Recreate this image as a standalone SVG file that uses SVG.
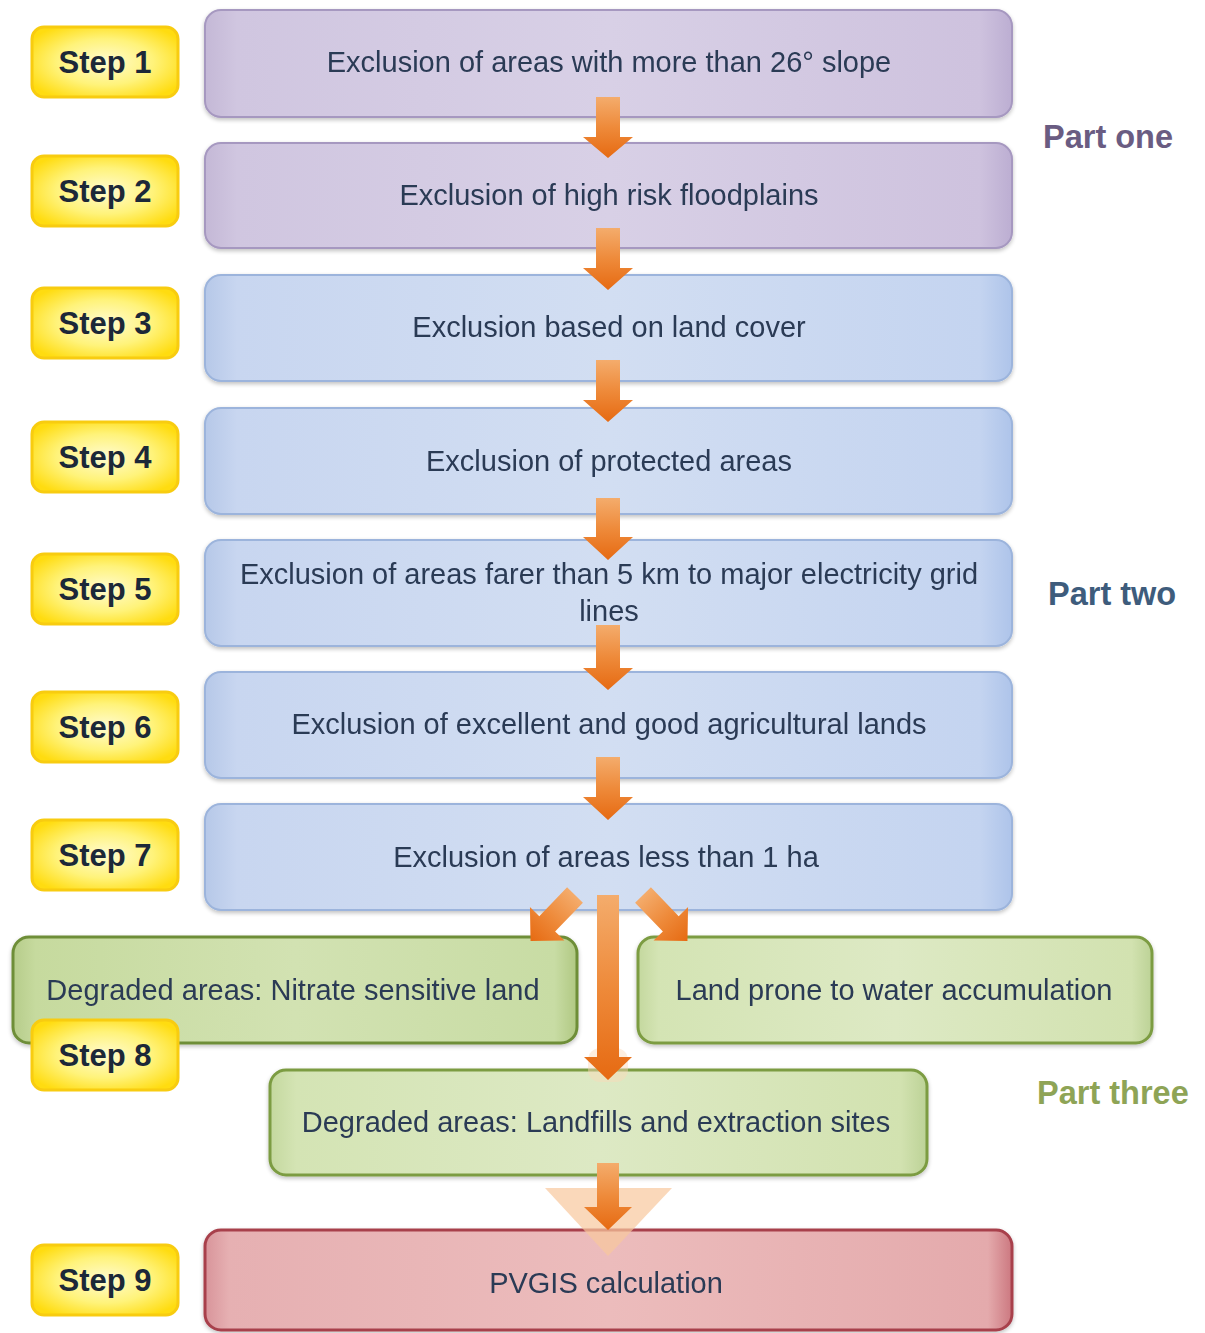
<svg xmlns="http://www.w3.org/2000/svg" width="1205" height="1333" viewBox="0 0 1205 1333">
<defs>
<radialGradient id="gYel" cx="50%" cy="50%" r="60%">
<stop offset="0" stop-color="#fffbd0"/>
<stop offset="0.55" stop-color="#fff37a"/>
<stop offset="1" stop-color="#ffdc10"/>
</radialGradient>
<linearGradient id="gPur" x1="0" y1="0" x2="1" y2="0">
<stop offset="0" stop-color="#c4b8d6"/>
<stop offset="0.04" stop-color="#d0c6e0"/>
<stop offset="0.5" stop-color="#d8d0e6"/>
<stop offset="0.96" stop-color="#cec2de"/>
<stop offset="1" stop-color="#bcaed2"/>
</linearGradient>
<linearGradient id="gBlu" x1="0" y1="0" x2="1" y2="0">
<stop offset="0" stop-color="#b6c8e8"/>
<stop offset="0.04" stop-color="#c8d6f0"/>
<stop offset="0.5" stop-color="#d2def2"/>
<stop offset="0.96" stop-color="#c4d4f0"/>
<stop offset="1" stop-color="#aec4ea"/>
</linearGradient>
<linearGradient id="gGrn" x1="0" y1="0" x2="1" y2="0">
<stop offset="0" stop-color="#c4d89e"/>
<stop offset="0.04" stop-color="#d4e4b4"/>
<stop offset="0.5" stop-color="#dde9c4"/>
<stop offset="0.96" stop-color="#d2e2b0"/>
<stop offset="1" stop-color="#bcd296"/>
</linearGradient>
<linearGradient id="gGrn2" x1="0" y1="0" x2="1" y2="0">
<stop offset="0" stop-color="#b6cc8a"/>
<stop offset="0.04" stop-color="#c6da9e"/>
<stop offset="0.5" stop-color="#d2e2b2"/>
<stop offset="0.96" stop-color="#c8dca4"/>
<stop offset="1" stop-color="#b0c882"/>
</linearGradient>
<linearGradient id="gRed" x1="0" y1="0" x2="1" y2="0">
<stop offset="0" stop-color="#d8949a"/>
<stop offset="0.03" stop-color="#e6b0b2"/>
<stop offset="0.5" stop-color="#ecbcbc"/>
<stop offset="0.97" stop-color="#e4aaac"/>
<stop offset="1" stop-color="#cc7880"/>
</linearGradient>
<linearGradient id="gArr" x1="0" y1="0" x2="0" y2="1">
<stop offset="0" stop-color="#f4ac6c"/>
<stop offset="0.5" stop-color="#ee8a3a"/>
<stop offset="1" stop-color="#e66a12"/>
</linearGradient>
<filter id="sh" x="-5%" y="-10%" width="110%" height="130%">
<feGaussianBlur in="SourceAlpha" stdDeviation="2"/>
<feOffset dx="0" dy="2"/>
<feComponentTransfer><feFuncA type="linear" slope="0.25"/></feComponentTransfer>
<feMerge><feMergeNode/><feMergeNode in="SourceGraphic"/></feMerge>
</filter>
</defs>
<style>
.badge{fill:url(#gYel);stroke:#f8cc10;stroke-width:3}
.bt{font-family:"Liberation Sans",Arial,sans-serif;font-weight:bold;font-size:31px;fill:#1c2838;text-anchor:middle}
.pur{fill:url(#gPur);stroke:#a698c0;stroke-width:2}
.blu{fill:url(#gBlu);stroke:#9cb4dc;stroke-width:2}
.grn{fill:url(#gGrn);stroke:#7c9c42;stroke-width:3}
.grn2{fill:url(#gGrn2);stroke:#6e8e38;stroke-width:3}
.red{fill:url(#gRed);stroke:#a8404c;stroke-width:3}
.tx{font-family:"Liberation Sans",Arial,sans-serif;font-size:29px;fill:#2b3a55;text-anchor:middle}
.part{font-family:"Liberation Sans",Arial,sans-serif;font-weight:bold;font-size:32.5px}
.arr{fill:url(#gArr)}
</style>
<rect width="1205" height="1333" fill="#ffffff"/>

<g id="box1" filter="url(#sh)"><rect class="pur" x="205" y="10" width="807" height="107" rx="16"/><text class="tx" x="609" y="72">Exclusion of areas with more than 26° slope</text></g>
<g id="box2" filter="url(#sh)"><rect class="pur" x="205" y="143" width="807" height="105" rx="16"/><text class="tx" x="609" y="205">Exclusion of high risk floodplains</text></g>
<g id="box3" filter="url(#sh)"><rect class="blu" x="205" y="275" width="807" height="106" rx="16"/><text class="tx" x="609" y="337">Exclusion based on land cover</text></g>
<g id="box4" filter="url(#sh)"><rect class="blu" x="205" y="408" width="807" height="106" rx="16"/><text class="tx" x="609" y="471">Exclusion of protected areas</text></g>
<g id="box5" filter="url(#sh)"><rect class="blu" x="205" y="540" width="807" height="106" rx="16"/><text class="tx" x="609" y="584">Exclusion of areas farer than 5 km to major electricity grid</text><text class="tx" x="609" y="621">lines</text></g>
<g id="box6" filter="url(#sh)"><rect class="blu" x="205" y="672" width="807" height="106" rx="16"/><text class="tx" x="609" y="734">Exclusion of excellent and good agricultural lands</text></g>
<g id="box7" filter="url(#sh)"><rect class="blu" x="205" y="804" width="807" height="106" rx="16"/><text class="tx" x="606" y="867">Exclusion of areas less than 1 ha</text></g>
<g id="box8a" filter="url(#sh)"><rect class="grn2" x="13" y="937" width="564" height="106" rx="16"/><text class="tx" x="293" y="1000">Degraded areas: Nitrate sensitive land</text></g>
<g id="box8b" filter="url(#sh)"><rect class="grn" x="638" y="937" width="514" height="106" rx="16"/><text class="tx" x="894" y="1000">Land prone to water accumulation</text></g>
<g id="box8c" filter="url(#sh)"><rect class="grn" x="270" y="1070" width="657" height="105" rx="16"/><text class="tx" x="596" y="1132">Degraded areas: Landfills and extraction sites</text></g>
<g id="box9" filter="url(#sh)"><rect class="red" x="205" y="1230" width="807" height="100" rx="16"/><text class="tx" x="606" y="1293">PVGIS calculation</text></g>

<g id="step1"><rect class="badge" x="32" y="27" width="146" height="70" rx="12"/><text class="bt" x="105" y="73">Step 1</text></g>
<g id="step2"><rect class="badge" x="32" y="156" width="146" height="70" rx="12"/><text class="bt" x="105" y="202">Step 2</text></g>
<g id="step3"><rect class="badge" x="32" y="288" width="146" height="70" rx="12"/><text class="bt" x="105" y="334">Step 3</text></g>
<g id="step4"><rect class="badge" x="32" y="422" width="146" height="70" rx="12"/><text class="bt" x="105" y="468">Step 4</text></g>
<g id="step5"><rect class="badge" x="32" y="554" width="146" height="70" rx="12"/><text class="bt" x="105" y="600">Step 5</text></g>
<g id="step6"><rect class="badge" x="32" y="692" width="146" height="70" rx="12"/><text class="bt" x="105" y="738">Step 6</text></g>
<g id="step7"><rect class="badge" x="32" y="820" width="146" height="70" rx="12"/><text class="bt" x="105" y="866">Step 7</text></g>
<g id="step8"><rect class="badge" x="32" y="1020" width="146" height="70" rx="12"/><text class="bt" x="105" y="1066">Step 8</text></g>
<g id="step9"><rect class="badge" x="32" y="1245" width="146" height="70" rx="12"/><text class="bt" x="105" y="1291">Step 9</text></g>

<g id="parts">
<text class="part" x="1043" y="148" fill="#6a5c82">Part one</text>
<text class="part" x="1048" y="605" fill="#3e5c7c">Part two</text>
<text class="part" x="1037" y="1104" fill="#8ea456">Part three</text>
</g>

<g id="connectors">
<polygon points="545,1188 672,1188 608,1256" fill="#f8c89c" opacity="0.7"/>
<rect x="588" y="1048" width="40" height="34" rx="12" fill="#fbd9b8" opacity="0.45"/>
<polygon class="arr" points="596,97 620,97 620,137 633,137 608,158 583,137 596,137"/>
<polygon class="arr" points="596,228 620,228 620,268 633,268 608,290 583,268 596,268"/>
<polygon class="arr" points="596,360 620,360 620,400 633,400 608,422 583,400 596,400"/>
<polygon class="arr" points="596,498 620,498 620,537 633,537 608,560 583,537 596,537"/>
<polygon class="arr" points="596,625 620,625 620,668 633,668 608,690 583,668 596,668"/>
<polygon class="arr" points="596,757 620,757 620,797 633,797 608,820 583,797 596,797"/>
<polygon class="arr" points="597,895 619,895 619,1057 632,1057 608,1080 584,1057 597,1057"/>
<polygon class="arr" points="597,1163 619,1163 619,1207 632,1207 608,1230 584,1207 597,1207"/>
<polygon class="arr" transform="translate(575,895) rotate(44)" points="-11,0 11,0 11,40 24,40 0,64 -24,40 -11,40"/>
<polygon class="arr" transform="translate(643,895) rotate(-44)" points="-11,0 11,0 11,40 24,40 0,64 -24,40 -11,40"/>
</g>
</svg>
